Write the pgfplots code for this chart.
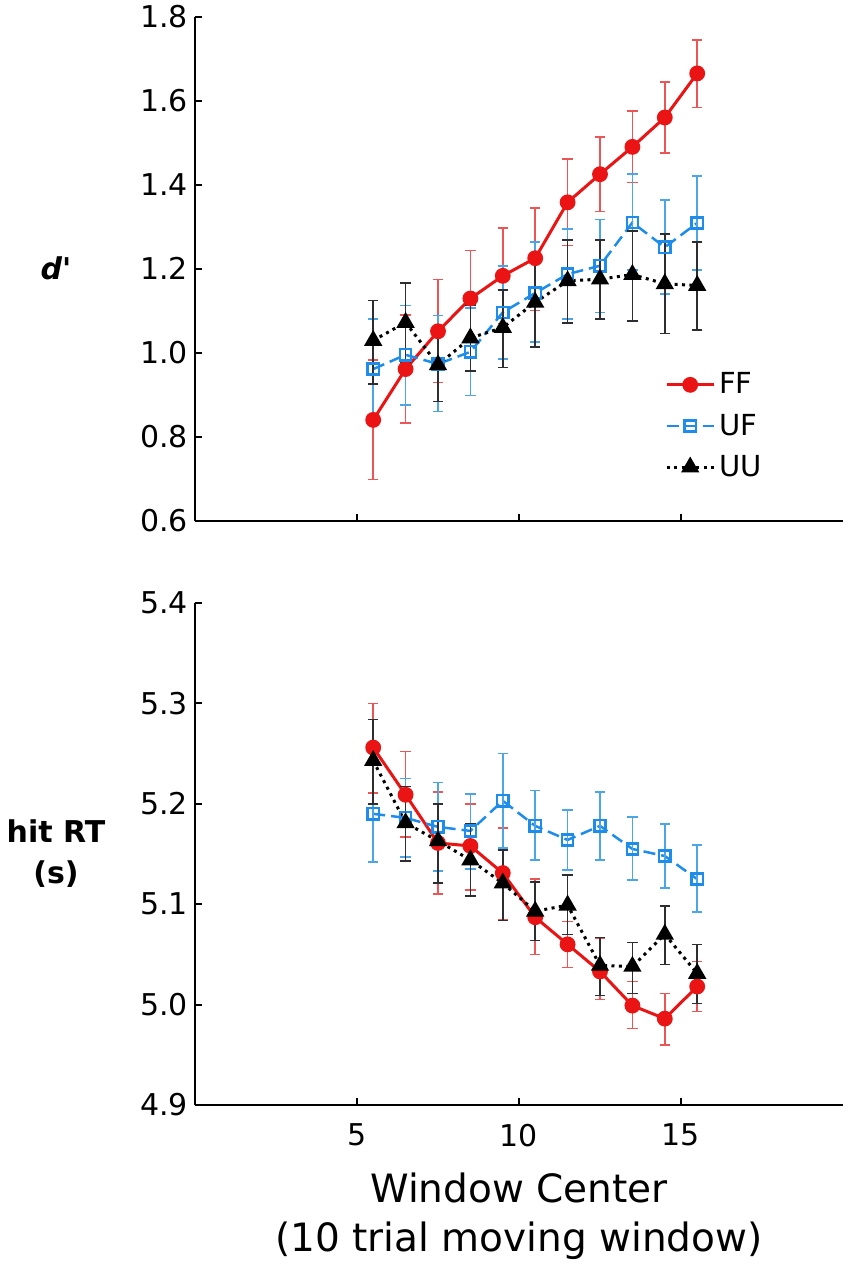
\documentclass[border=0pt]{standalone}
\usepackage{fontspec}
\setmainfont{DejaVu Sans}
\newfontfamily\djv{DejaVu Sans}
\usepackage{pgfplots}
\pgfplotsset{compat=1.18}
\usepackage{pgfplotstable}

\definecolor{ffred}{RGB}{235,20,20}
\definecolor{fferr}{RGB}{235,85,85}
\definecolor{ufblue}{RGB}{30,140,235}
\definecolor{uferr}{RGB}{75,165,230}
\definecolor{uuerr}{RGB}{45,45,50}

% x  y  ep  em
\pgfplotstableread{
x y ep em
5.5 0.840 0.143 0.142
6.5 0.961 0.129 0.128
7.5 1.051 0.123 0.122
8.5 1.129 0.114 0.114
9.5 1.183 0.114 0.113
10.5 1.225 0.120 0.125
11.5 1.358 0.103 0.103
12.5 1.425 0.089 0.089
13.5 1.490 0.085 0.085
14.5 1.560 0.085 0.085
15.5 1.665 0.080 0.081
}\fftop
\pgfplotstableread{
x y ep em
5.5 0.961 0.119 0.119
6.5 0.995 0.117 0.119
7.5 0.973 0.115 0.113
8.5 1.002 0.104 0.104
9.5 1.096 0.111 0.111
10.5 1.142 0.122 0.116
11.5 1.187 0.107 0.107
12.5 1.207 0.110 0.111
13.5 1.310 0.115 0.113
14.5 1.251 0.113 0.111
15.5 1.309 0.112 0.112
}\uftop
\pgfplotstableread{
x y ep em
5.5 1.029 0.095 0.104
6.5 1.072 0.094 0.094
7.5 0.971 0.089 0.087
8.5 1.035 0.079 0.078
9.5 1.060 0.089 0.095
10.5 1.120 0.107 0.107
11.5 1.171 0.097 0.100
12.5 1.175 0.093 0.095
13.5 1.186 0.104 0.111
14.5 1.164 0.119 0.118
15.5 1.160 0.103 0.106
}\uutop
\pgfplotstableread{
x y ep em
5.5 5.256 0.044 0.045
6.5 5.209 0.043 0.042
7.5 5.161 0.051 0.051
8.5 5.158 0.042 0.044
9.5 5.131 0.045 0.046
10.5 5.087 0.038 0.037
11.5 5.060 0.023 0.023
12.5 5.033 0.033 0.028
13.5 4.999 0.024 0.023
14.5 4.986 0.025 0.026
15.5 5.018 0.025 0.025
}\ffbot
\pgfplotstableread{
x y ep em
5.5 5.190 0.050 0.048
6.5 5.186 0.039 0.039
7.5 5.177 0.044 0.044
8.5 5.173 0.037 0.038
9.5 5.203 0.047 0.047
10.5 5.178 0.035 0.034
11.5 5.164 0.030 0.030
12.5 5.178 0.034 0.034
13.5 5.155 0.032 0.031
14.5 5.148 0.032 0.032
15.5 5.125 0.034 0.033
}\ufbot
\pgfplotstableread{
x y ep em
5.5 5.243 0.041 0.043
6.5 5.181 0.036 0.038
7.5 5.163 0.037 0.042
8.5 5.144 0.036 0.036
9.5 5.121 0.033 0.037
10.5 5.093 0.029 0.029
11.5 5.099 0.030 0.029
12.5 5.039 0.028 0.030
13.5 5.038 0.024 0.027
14.5 5.070 0.028 0.030
15.5 5.031 0.029 0.030
}\uubot

\pgfplotsset{
  myaxis/.style={
    scale only axis, width=324pt,
    xmin=0, xmax=20, xtick={5,10,15},
    axis x line*=bottom, axis y line*=left,
    tick align=inside, major tick length=3.5pt,
    every tick/.style={line width=1pt, black},
    axis line style={line width=1pt, black},
    /pgf/number format/assume math mode=true,
    yticklabel style={font=\fontsize{15}{17}\selectfont, /pgf/number format/.cd, fixed, fixed zerofill, precision=1},
    xticklabel style={font=\fontsize{15}{17}\selectfont, yshift=-6pt},
    clip=false,
    ylabel style={rotate=-90, at={(axis description cs:0,0.5)}, anchor=center, xshift=-69.5pt, align=center, font=\bfseries\fontsize{15}{20.5}\selectfont},
  },
  ff/.style={color=ffred, line width=1.5pt, mark=*, mark size=3.2pt, mark options={solid, fill=ffred, draw=ffred},
    error bars/.cd, y dir=both, y explicit,
    error bar style={line width=0.75pt, color=fferr, solid},
    error mark options={rotate=90, mark size=2.6pt, line width=0.75pt, color=fferr, solid}},
  uf/.style={color=ufblue, line width=1.25pt, dash pattern=on 6pt off 3pt, mark=square, mark size=2.8pt, mark options={solid, line width=1.2pt, fill=white},
    error bars/.cd, y dir=both, y explicit,
    error bar style={line width=0.75pt, color=uferr, solid},
    error mark options={rotate=90, mark size=2.6pt, line width=0.75pt, color=uferr, solid}},
  uu/.style={color=black, line width=1.5pt, dash pattern=on 1.5pt off 2.2pt, mark=triangle*, mark size=3.8pt, mark options={solid},
    error bars/.cd, y dir=both, y explicit,
    error bar style={line width=0.75pt, color=uuerr, solid},
    error mark options={rotate=90, mark size=2.6pt, line width=0.75pt, color=uuerr, solid}},
}

\begin{document}
\begin{tikzpicture}
\path[use as bounding box] (0,0) rectangle (425.5pt,632.5pt);

\begin{axis}[myaxis,
  at={(97.5pt,372.15pt)}, anchor=south west,
  height=252pt,
  ymin=0.6, ymax=1.8, ytick={0.6,0.8,1.0,1.2,1.4,1.6,1.8},
  xticklabels={},
  ylabel={{\djv\bfseries\itshape d'}},
  legend style={at={(axis cs:14.5,0.8255)}, anchor=west, draw=none, fill=none,
    inner sep=0pt, font=\fontsize{14.5}{16}\selectfont, row sep=4.5pt},
  legend cell align=left,
  legend image code/.code={\draw[mark repeat=2,mark phase=2,#1] plot coordinates {(0pt,0pt) (11.75pt,0pt) (23.5pt,0pt)};},
]
\addplot[ff] table[x=x, y=y, y error plus=ep, y error minus=em] {\fftop};
\addlegendentry{FF}
\addplot[uf] table[x=x, y=y, y error plus=ep, y error minus=em] {\uftop};
\addlegendentry{UF}
\addplot[uu] table[x=x, y=y, y error plus=ep, y error minus=em] {\uutop};
\addlegendentry{UU}
\end{axis}

\begin{axis}[myaxis,
  at={(97.5pt,80pt)}, anchor=south west,
  height=251pt,
  ymin=4.9, ymax=5.4, ytick={4.9,5.0,5.1,5.2,5.3,5.4},
  ylabel={hit RT\\(s)},
  xlabel={Window Center\\(10 trial moving window)},
  xlabel style={at={(axis description cs:0.5,0)}, anchor=base, yshift=-73pt, align=center, font=\fontsize{19.5}{24.5}\selectfont},
]
\addplot[ff] table[x=x, y=y, y error plus=ep, y error minus=em] {\ffbot};
\addplot[uf] table[x=x, y=y, y error plus=ep, y error minus=em] {\ufbot};
\addplot[uu] table[x=x, y=y, y error plus=ep, y error minus=em] {\uubot};
\end{axis}
\end{tikzpicture}
\end{document}
